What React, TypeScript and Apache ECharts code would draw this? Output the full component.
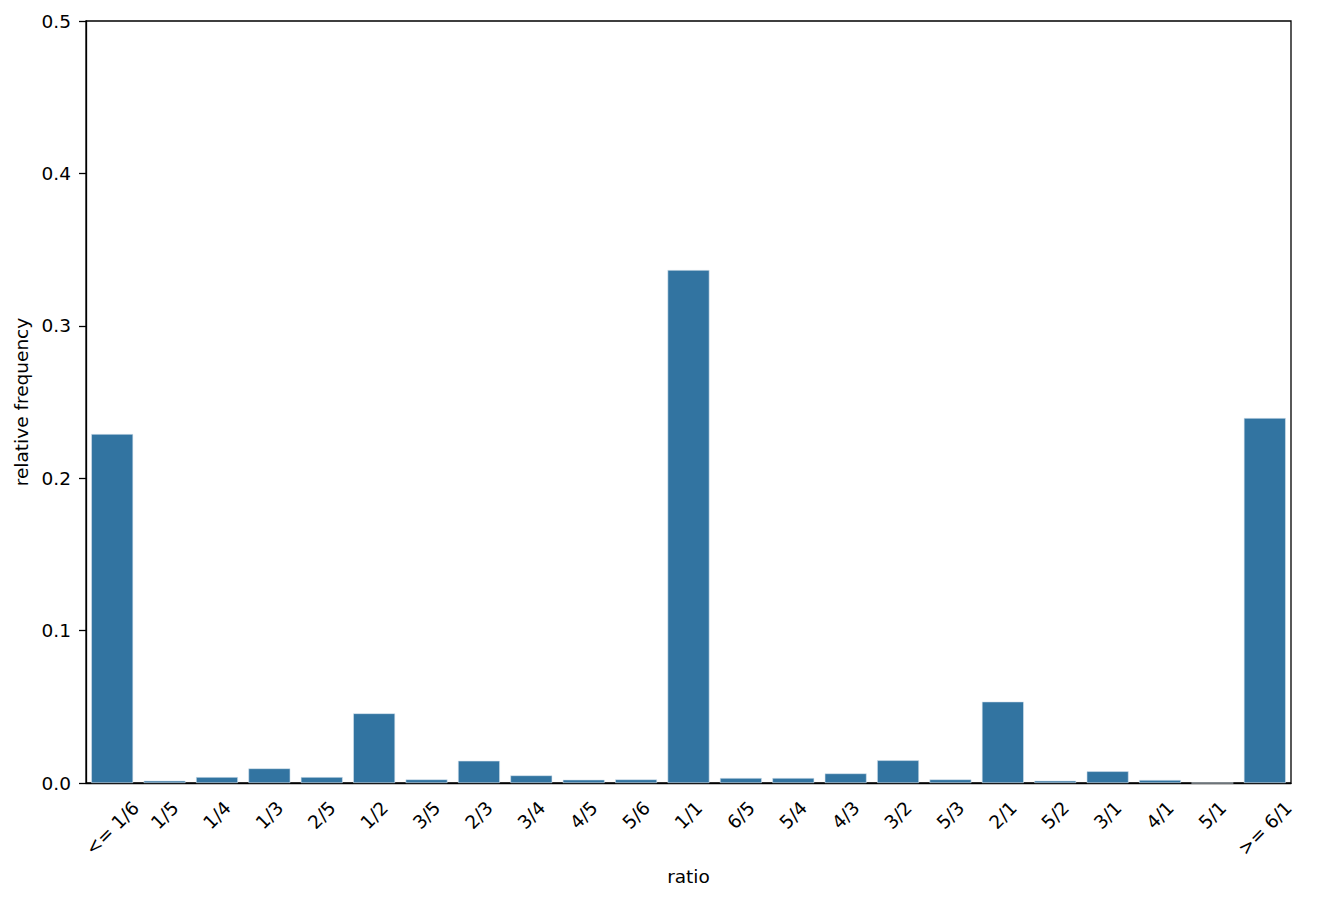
import React, { useEffect, useRef } from "react";
import * as echarts from "echarts";

const categories = [
  "<= 1/6", "1/5", "1/4", "1/3", "2/5", "1/2", "3/5", "2/3", "3/4", "4/5", "5/6",
  "1/1", "6/5", "5/4", "4/3", "3/2", "5/3", "2/1", "5/2", "3/1", "4/1", "5/1", ">= 6/1",
];
const frequencies = [
  0.229, 0.0015, 0.0039, 0.0096, 0.0039, 0.0457, 0.0024, 0.0146, 0.005, 0.0022, 0.0024,
  0.3366, 0.0033, 0.0033, 0.0063, 0.0149, 0.0024, 0.0534, 0.0015, 0.0077, 0.002, 0.0, 0.2395,
];
const yTicks = { min: 0, max: 0.5, interval: 0.1 };
const xName = "ratio";
const yName = "relative frequency";

const FONT = "DejaVu Sans";
const FS = 18.5;

export default function App() {
  const ref = useRef<HTMLDivElement>(null);
  useEffect(() => {
    if (!ref.current) return;
    const chart = echarts.init(ref.current, null, { renderer: "svg" });
    const canvas = document.createElement("canvas");
    const ctx = canvas.getContext("2d")!;
    ctx.font = `${FS}px "${FONT}"`;
    const rich: Record<string, any> = {};
    categories.forEach((c, i) => {
      const w = ctx.measureText(c).width;
      rich[`s${i}`] = {
        fontFamily: FONT,
        fontSize: FS,
        color: "#000",
        padding: [w / 2, w / 2, 0, 0],
      };
    });
    chart.setOption({
      animation: false,
      textStyle: { fontFamily: FONT, fontSize: FS, color: "#000" },
      grid: {
        left: 86,
        right: 36,
        top: 21,
        bottom: 119,
        show: true,
        borderColor: "#000",
        borderWidth: 1.3,
        backgroundColor: "transparent",
      },
      xAxis: {
        type: "category",
        data: categories,
        name: xName,
        nameLocation: "middle",
        nameGap: 84,
        nameTextStyle: { fontFamily: FONT, fontSize: FS, color: "#000" },
        axisLine: { lineStyle: { color: "#000", width: 1.3 } },
        axisTick: { alignWithLabel: true, length: 7, lineStyle: { color: "#000", width: 1.3 } },
        axisLabel: {
          interval: 0,
          rotate: 45,
          align: "center",
          verticalAlign: "middle",
          margin: 21.5,
          formatter: (v: string, i: number) => `{s${i}|${v}}`,
          rich,
        },
      },
      yAxis: {
        type: "value",
        min: yTicks.min,
        max: yTicks.max,
        interval: yTicks.interval,
        name: yName,
        nameLocation: "middle",
        nameGap: 53,
        nameTextStyle: { fontFamily: FONT, fontSize: FS, color: "#000" },
        axisLine: { show: true, lineStyle: { color: "#000", width: 1.3 } },
        axisTick: { show: true, length: 7, lineStyle: { color: "#000", width: 1.3 } },
        axisLabel: {
          margin: 15,
          fontFamily: FONT,
          fontSize: FS,
          color: "#000",
          formatter: (v: number) => v.toFixed(1),
        },
        splitLine: { show: false },
      },
      series: [
        {
          type: "bar",
          data: frequencies,
          barCategoryGap: "20%",
          itemStyle: { color: "#3274a1", borderColor: "#d6e4ee", borderWidth: 0.6 },
        },
      ],
    });
    return () => chart.dispose();
  }, []);
  return (
    <div
      ref={ref}
      style={{ position: "fixed", left: 0, top: 0, width: 1327, height: 902, background: "#fff" }}
    />
  );
}
